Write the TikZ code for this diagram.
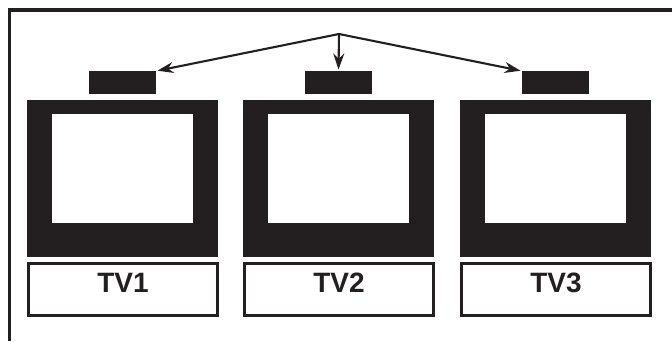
\documentclass[tikz,border=0pt]{standalone}
\usepackage{fontspec}
\setmainfont{Liberation Sans}
\usetikzlibrary{arrows.meta}
\definecolor{inkblack}{HTML}{231F20}

\tikzset{
  tvbody/.style={fill=inkblack,inner sep=0,outer sep=0,minimum width=191,minimum height=157},
  tvscreen/.style={fill=white,inner sep=0,outer sep=0,minimum width=141,minimum height=109},
  receiver/.style={fill=inkblack,inner sep=0,outer sep=0,minimum width=67,minimum height=23},
  namebox/.style={draw=inkblack,line width=3pt,inner sep=0,outer sep=0,minimum width=189,minimum height=52},
  tvname/.style={inkblack,font=\bfseries\fontsize{28}{30}\selectfont,inner sep=0},
  signal/.style={draw=inkblack,line width=2.1pt,-{Stealth[length=16pt,width=11pt]},shorten >=1.5pt}
}

\begin{document}
\begin{tikzpicture}[x=1pt,y=-1pt]
\useasboundingbox (0,0) rectangle (672,341);
% frame, top and left only
\draw[line width=3.2pt,inkblack] (8,10)--(672,10);
\draw[line width=3.2pt,inkblack] (9.5,8.4)--(9.5,341);
% the three sets
\foreach \n/\x in {1/122.5,2/338.5,3/555.5}{
  \node[tvbody] (tv\n) at (\x,178.5) {};
  \node[tvscreen] (screen\n) at (\x,168.5) {};
  \node[receiver] (rx\n) at (\x,82.5) {};
  \node[namebox] (box\n) at (\x+0.5,289.5) {};
  \node[tvname] (name\n) at ([yshift=6.5pt]box\n.center) {TV\n};
}
% signal from one point to each receiver
\coordinate (apex) at (339,34);
\draw[signal] (apex) -- (rx1.north east);
\draw[signal] (apex) -- (rx2.north);
\draw[signal] (apex) -- (rx3.north west);
\end{tikzpicture}
\end{document}
